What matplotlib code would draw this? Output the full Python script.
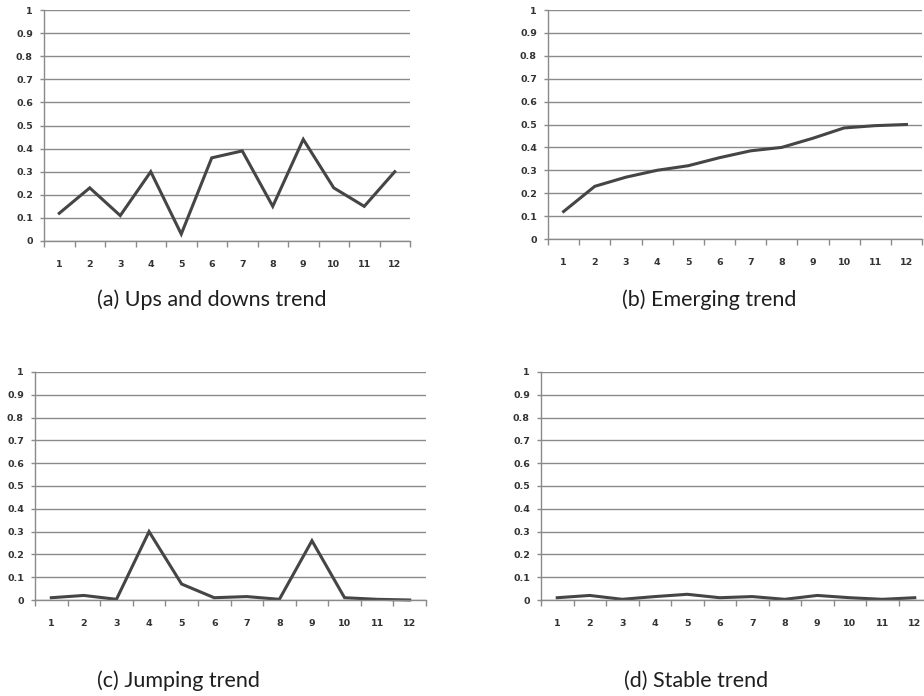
import matplotlib
matplotlib.use("Agg")
import matplotlib.pyplot as plt
import numpy as np

periods = list(range(1, 13))
ups_downs = [0.12, 0.23, 0.11, 0.30, 0.03, 0.36, 0.39, 0.15, 0.44, 0.23, 0.15, 0.30]
emerging = [0.12, 0.23, 0.27, 0.30, 0.32, 0.355, 0.385, 0.40, 0.44, 0.485, 0.495, 0.50]
jumping = [0.01, 0.02, 0.003, 0.30, 0.07, 0.01, 0.015, 0.003, 0.26, 0.01, 0.003, 0.0]
stable = [0.01, 0.02, 0.003, 0.015, 0.025, 0.01, 0.015, 0.003, 0.02, 0.01, 0.003, 0.01]
y_ticks = [0, 0.1, 0.2, 0.3, 0.4, 0.5, 0.6, 0.7, 0.8, 0.9, 1]
y_labels = ["0", "0.1", "0.2", "0.3", "0.4", "0.5", "0.6", "0.7", "0.8", "0.9", "1"]
titles = ["(a) Ups and downs trend", "(b) Emerging trend",
          "(c) Jumping trend", "(d) Stable trend"]

W, H = 924, 696
fig = plt.figure(figsize=(W / 100, H / 100), dpi=100)

# panel boxes in pixels: left, top, right, bottom (zero line)
boxes = [(44, 10, 410, 241), (548, 10, 922, 239),
         (35, 372, 426, 600), (541, 372, 931, 600)]
title_pos = [(212, 300), (709, 300), (178, 681), (696, 681)]
series = [ups_downs, emerging, jumping, stable]

grid_c = "#8a8a8a"
line_c = "#454545"
text_c = "#333333"

for (l, t, r, b), data, title, (tx, ty) in zip(boxes, series, titles, title_pos):
    ax = fig.add_axes([l / W, 1 - b / H, (r - l) / W, (b - t) / H])
    ax.plot(periods, data, color=line_c, lw=2.2, solid_joinstyle="miter", clip_on=False)
    ax.set_xlim(0.5, 12.5)
    ax.set_ylim(0, 1)
    ax.set_yticks(y_ticks)
    ax.set_yticklabels(y_labels)
    ax.yaxis.grid(True, color=grid_c, lw=1.0)
    ax.set_axisbelow(True)
    for s in ["top", "right"]:
        ax.spines[s].set_visible(False)
    for s in ["left", "bottom"]:
        ax.spines[s].set_color(grid_c)
        ax.spines[s].set_linewidth(1.0)
    # category boundaries carry the tick marks, labels sit at category centers
    ax.set_xticks(np.arange(0.5, 13.0, 1.0))
    ax.set_xticklabels([])
    ax.set_xticks(periods, minor=True)
    ax.set_xticklabels([str(p) for p in periods], minor=True)
    ax.tick_params(axis="x", which="major", direction="out", length=4,
                   color=grid_c, width=1.0)
    ax.tick_params(axis="x", which="minor", length=0, pad=14,
                   labelsize=6.8, labelcolor=text_c)
    ax.tick_params(axis="y", direction="out", length=3, color=grid_c,
                   width=1.0, pad=5, labelsize=6.8, labelcolor=text_c)
    for lab in ax.get_xticklabels(minor=True) + ax.get_yticklabels():
        lab.set_fontweight("bold")
    fig.text(tx / W, 1 - ty / H, title, ha="center", va="center",
             fontsize=15.5, family="Lato", color="#1e1e1e")

fig.savefig("out.png", dpi=100, facecolor="white")
